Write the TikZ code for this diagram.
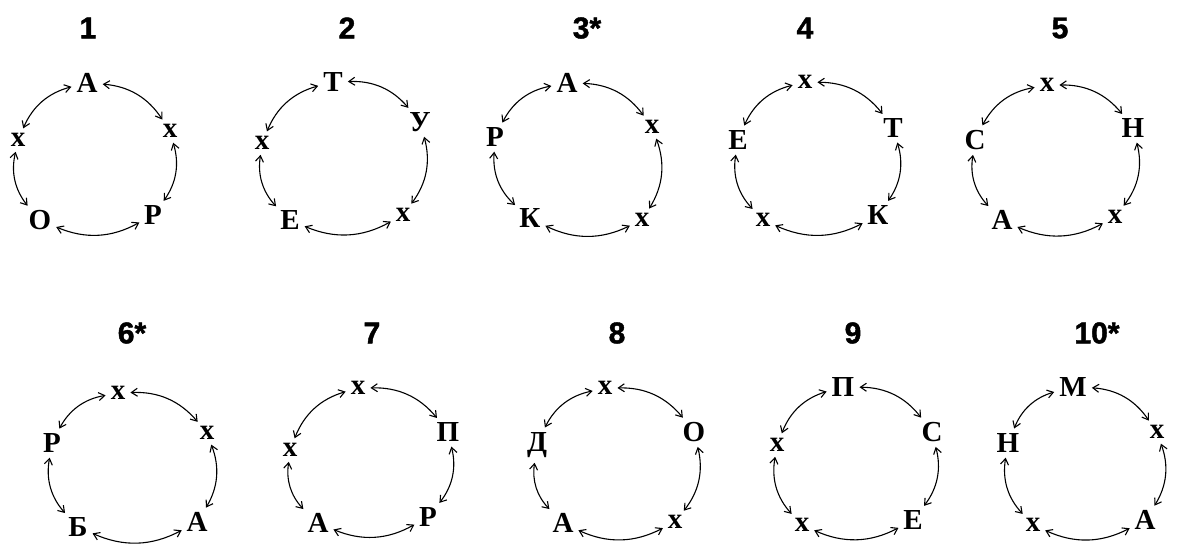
\documentclass[tikz,border=0pt]{standalone}
\usepackage{fontspec}
\setmainfont{Liberation Serif}
\newfontfamily\titlefont{Liberation Sans}[BoldFeatures={FakeBold=1.5}]
\usetikzlibrary{arrows.meta}
\tikzset{
  lett/.style={font=\bfseries\fontsize{29}{29}\selectfont, inner sep=2pt},
  ttl/.style={font=\titlefont\bfseries\fontsize{30}{30}\selectfont, inner sep=0pt},
  arr/.style={draw=black, line width=1.1pt, shorten <=3pt, shorten >=3pt,
    {Straight Barb[length=6pt,width=8pt]}-{Straight Barb[length=6pt,width=8pt]}},
}
\newcommand{\ringarrows}[1]{%
  \draw[arr] (#1t) to[bend left=26] (#1r);
  \draw[arr] (#1r) to[bend left=26] (#1br);
  \draw[arr] (#1br) to[bend left=26] (#1bl);
  \draw[arr] (#1bl) to[bend left=26] (#1l);
  \draw[arr] (#1l) to[bend left=26] (#1t);
}
\begin{document}
\begin{tikzpicture}[x=1pt,y=1pt]
\useasboundingbox[fill=white] (0,0) rectangle (1179,548);
% ---- group 1
\node[ttl] (h1) at (88,520) {1};
\node[lett] (g1t) at (87,465) {А};
\node[lett] (g1r) at (170,417) {х};
\node[lett] (g1br) at (153,333) {Р};
\node[lett] (g1bl) at (40,328) {О};
\node[lett] (g1l) at (18,408) {х};
\ringarrows{g1}
% ---- group 2
\node[ttl] (h2) at (347,520) {2};
\node[lett] (g2t) at (333,466) {Т};
\node[lett] (g2r) at (420,426) {У};
\node[lett] (g2br) at (403,333) {х};
\node[lett] (g2bl) at (290,328) {Е};
\node[lett] (g2l) at (262,405) {х};
\ringarrows{g2}
% ---- group 3
\node[ttl] (h3) at (587,520) {3*};
\node[lett] (g3t) at (567,465) {А};
\node[lett] (g3r) at (652,421) {х};
\node[lett] (g3br) at (642,328) {х};
\node[lett] (g3bl) at (530,330) {К};
\node[lett] (g3l) at (495,411) {Р};
\ringarrows{g3}
% ---- group 4
\node[ttl] (h4) at (805,520) {4};
\node[lett] (g4t) at (805,466) {х};
\node[lett] (g4r) at (893,420) {Т};
\node[lett] (g4br) at (878,333) {К};
\node[lett] (g4bl) at (763,328) {х};
\node[lett] (g4l) at (738,408) {Е};
\ringarrows{g4}
% ---- group 5
\node[ttl] (h5) at (1060,520) {5};
\node[lett] (g5t) at (1047,463) {х};
\node[lett] (g5r) at (1133,420) {Н};
\node[lett] (g5br) at (1115,331) {х};
\node[lett] (g5bl) at (1002,328) {А};
\node[lett] (g5l) at (975,408) {С};
\ringarrows{g5}
% ---- group 6
\node[ttl] (h6) at (132,215) {6*};
\node[lett] (g6t) at (118,155) {х};
\node[lett] (g6r) at (207,115) {х};
\node[lett] (g6br) at (197,26) {А};
\node[lett] (g6bl) at (78,21) {Б};
\node[lett] (g6l) at (52,105) {Р};
\ringarrows{g6}
% ---- group 7
\node[ttl] (h7) at (372,215) {7};
\node[lett] (g7t) at (358,160) {х};
\node[lett] (g7r) at (448,116) {П};
\node[lett] (g7br) at (428,31) {Р};
\node[lett] (g7bl) at (318,25) {А};
\node[lett] (g7l) at (290,98) {х};
\ringarrows{g7}
% ---- group 8
\node[ttl] (h8) at (617,215) {8};
\node[lett] (g8t) at (605,160) {х};
\node[lett] (g8r) at (694,116) {О};
\node[lett] (g8br) at (675,26) {х};
\node[lett] (g8bl) at (563,25) {А};
\node[lett] (g8l) at (537,103) {Д};
\ringarrows{g8}
% ---- group 9
\node[ttl] (h9) at (853,215) {9};
\node[lett] (g9t) at (843,161) {П};
\node[lett] (g9r) at (932,116) {С};
\node[lett] (g9br) at (913,28) {Е};
\node[lett] (g9bl) at (802,23) {х};
\node[lett] (g9l) at (777,103) {х};
\ringarrows{g9}
% ---- group 10
\node[ttl] (h10) at (1097,215) {10*};
\node[lett] (g10t) at (1073,161) {М};
\node[lett] (g10r) at (1157,116) {х};
\node[lett] (g10br) at (1145,28) {А};
\node[lett] (g10bl) at (1033,23) {х};
\node[lett] (g10l) at (1008,105) {Н};
\ringarrows{g10}
\end{tikzpicture}
\end{document}
